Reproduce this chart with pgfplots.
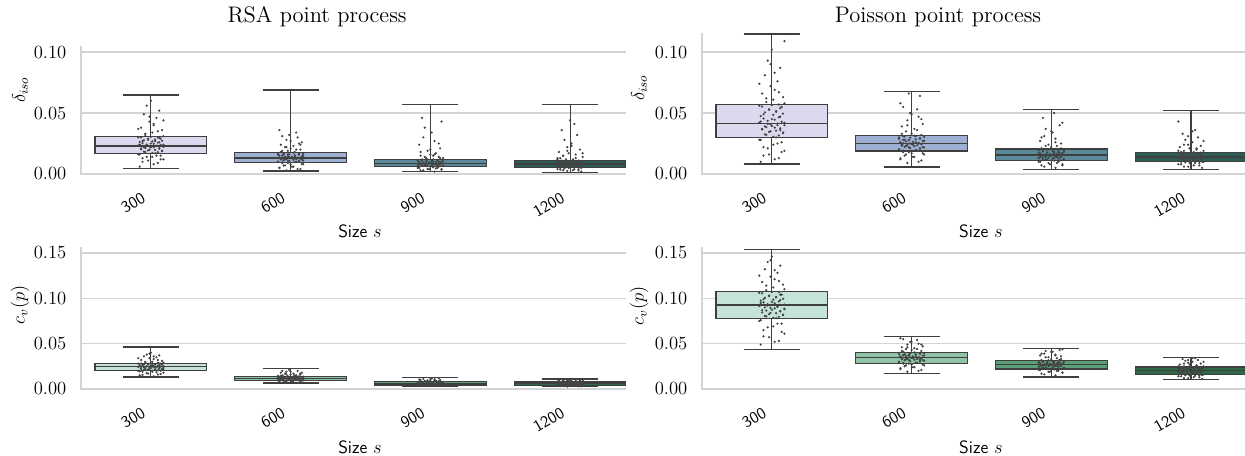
\documentclass[border=0pt]{standalone}
\usepackage{pgfplots}
\usepackage{pgfplotstable}
\usepgfplotslibrary{statistics}
\pgfplotsset{compat=1.18}

\definecolor{gridc}{HTML}{D4D4D4}
\definecolor{edgec}{HTML}{3F3F3F}
\definecolor{ptc}{HTML}{444444}
\definecolor{boxA1}{HTML}{DCD9EE}
\definecolor{boxA2}{HTML}{9DB0D4}
\definecolor{boxA3}{HTML}{5B8A9B}
\definecolor{boxA4}{HTML}{2D5C57}
\definecolor{boxB1}{HTML}{C5E3D7}
\definecolor{boxB2}{HTML}{8EC3A6}
\definecolor{boxB3}{HTML}{5B9E78}
\definecolor{boxB4}{HTML}{2E6845}

% strip points, one column per size (a=300, b=600, c=900, d=1200), dx/ex = jitter
\pgfplotstableread{
dx ex a b c d
-0.08 0.03 0.006 0.003 0.002 0.002
0.05 -0.07 0.009 0.004 0.003 0.003
-0.02 0.08 0.011 0.005 0.004 0.003
0.09 -0.02 0.012 0.006 0.004 0.004
-0.06 0.05 0.013 0.007 0.005 0.004
0.01 -0.09 0.014 0.008 0.005 0.005
0.07 0.00 0.015 0.008 0.006 0.005
-0.09 0.06 0.016 0.009 0.006 0.006
0.03 -0.04 0.017 0.010 0.007 0.006
-0.04 0.09 0.018 0.010 0.007 0.007
0.08 -0.06 0.019 0.011 0.007 0.007
-0.01 0.02 0.020 0.011 0.008 0.007
0.06 -0.08 0.021 0.012 0.008 0.008
-0.07 0.04 0.021 0.012 0.008 0.008
0.02 -0.01 0.022 0.013 0.009 0.008
-0.05 0.07 0.022 0.013 0.009 0.009
0.04 -0.05 0.023 0.013 0.009 0.009
-0.03 0.01 0.023 0.014 0.010 0.009
0.09 -0.03 0.024 0.014 0.010 0.010
-0.08 0.08 0.024 0.015 0.010 0.010
0.00 -0.09 0.025 0.015 0.011 0.010
0.06 0.05 0.026 0.016 0.011 0.011
-0.06 0.02 0.027 0.016 0.012 0.011
0.03 -0.06 0.027 0.017 0.012 0.012
-0.02 0.09 0.028 0.017 0.013 0.012
0.07 -0.03 0.029 0.018 0.013 0.013
-0.09 0.06 0.030 0.019 0.014 0.014
0.05 -0.07 0.030 0.020 0.015 0.015
-0.04 0.00 0.032 0.021 0.016 0.016
0.01 0.04 0.034 0.022 0.017 0.017
0.08 -0.02 0.036 0.023 0.019 0.018
-0.07 0.07 0.038 0.024 0.021 0.020
0.02 -0.08 0.040 0.026 0.024 0.022
-0.01 0.03 0.043 0.028 0.027 0.025
0.04 -0.05 0.046 0.030 0.030 0.028
-0.05 0.01 0.049 0.032 0.034 0.032
0.06 -0.04 0.052 0.034 0.038 0.036
-0.03 0.08 0.056 0.036 0.043 0.041
0.00 -0.06 0.060 0.025 0.046 0.044
0.09 0.02 0.044 0.019 0.015 0.013
0.02 -0.05 0.008 0.004 0.003 0.0025
-0.06 0.08 0.010 0.005 0.0035 0.003
0.07 -0.01 0.012 0.006 0.004 0.0035
-0.03 0.04 0.014 0.007 0.0045 0.004
0.04 -0.08 0.015 0.008 0.005 0.0045
-0.08 0.02 0.016 0.009 0.0055 0.005
0.01 0.06 0.0172 0.0095 0.0062 0.0054
0.05 -0.03 0.0178 0.0098 0.0064 0.0056
-0.05 0.09 0.0183 0.0101 0.0066 0.0058
0.08 -0.06 0.0188 0.0104 0.0068 0.0060
-0.02 0.01 0.0193 0.0107 0.0070 0.0062
0.03 -0.09 0.0198 0.0110 0.0072 0.0064
-0.07 0.05 0.0203 0.0113 0.0074 0.0066
0.06 -0.02 0.0208 0.0116 0.0076 0.0068
-0.04 0.07 0.0213 0.0119 0.0078 0.0070
0.00 -0.04 0.0218 0.0122 0.0080 0.0072
0.09 0.03 0.0222 0.0125 0.0082 0.0074
-0.01 -0.07 0.0226 0.0127 0.0084 0.0076
0.04 0.00 0.0230 0.0129 0.0086 0.0078
-0.09 0.06 0.0234 0.0131 0.0088 0.0080
0.07 -0.05 0.0238 0.0133 0.0090 0.0082
-0.03 0.08 0.0242 0.0135 0.0092 0.0084
0.02 -0.01 0.0247 0.0138 0.0094 0.0086
-0.06 0.04 0.0252 0.0141 0.0096 0.0088
0.05 -0.08 0.0257 0.0144 0.0098 0.0090
-0.08 0.02 0.0262 0.0147 0.0100 0.0092
0.01 0.06 0.0267 0.0150 0.0102 0.0094
0.08 -0.03 0.0272 0.0153 0.0104 0.0096
-0.05 0.09 0.0277 0.0156 0.0106 0.0098
0.03 -0.06 0.0283 0.0159 0.0108 0.0100
-0.02 0.01 0.0289 0.0162 0.0110 0.0102
0.06 -0.09 0.0295 0.0166 0.0113 0.0104
-0.07 0.05 0.0300 0.0170 0.0116 0.0106
0.00 -0.02 0.0305 0.0174 0.0119 0.0108
0.09 0.07 0.031 0.018 0.013 0.012
-0.04 -0.04 0.033 0.020 0.014 0.013
0.05 0.03 0.035 0.022 0.016 0.015
-0.09 -0.07 0.037 0.024 0.018 0.017
0.02 0.00 0.041 0.027 0.020 0.019
-0.01 0.06 0.047 0.031 0.025 0.023
}\rsaiso

\pgfplotstableread{
dx ex a b c d
-0.08 0.03 0.010 0.009 0.005 0.005
0.05 -0.07 0.013 0.011 0.007 0.006
-0.02 0.08 0.016 0.013 0.008 0.007
0.09 -0.02 0.019 0.014 0.009 0.008
-0.06 0.05 0.022 0.015 0.010 0.009
0.01 -0.09 0.024 0.016 0.010 0.009
0.07 0.00 0.026 0.017 0.011 0.010
-0.09 0.06 0.028 0.018 0.011 0.010
0.03 -0.04 0.030 0.019 0.012 0.011
-0.04 0.09 0.032 0.020 0.012 0.011
0.08 -0.06 0.034 0.021 0.013 0.012
-0.01 0.02 0.035 0.022 0.013 0.012
0.06 -0.08 0.036 0.022 0.014 0.013
-0.07 0.04 0.037 0.023 0.014 0.013
0.02 -0.01 0.038 0.024 0.015 0.013
-0.05 0.07 0.039 0.024 0.015 0.014
0.04 -0.05 0.040 0.025 0.015 0.014
-0.03 0.01 0.041 0.025 0.016 0.014
0.09 -0.03 0.042 0.026 0.016 0.015
-0.08 0.08 0.043 0.026 0.017 0.015
0.00 -0.09 0.045 0.027 0.017 0.016
0.06 0.05 0.047 0.028 0.018 0.016
-0.06 0.02 0.049 0.028 0.018 0.017
0.03 -0.06 0.051 0.029 0.019 0.017
-0.02 0.09 0.053 0.030 0.019 0.018
0.07 -0.03 0.055 0.031 0.020 0.018
-0.09 0.06 0.056 0.031 0.020 0.019
0.05 -0.07 0.057 0.032 0.021 0.019
-0.04 0.00 0.059 0.033 0.022 0.020
0.01 0.04 0.061 0.035 0.023 0.021
0.08 -0.02 0.063 0.037 0.024 0.022
-0.07 0.07 0.066 0.039 0.025 0.023
0.02 -0.08 0.069 0.041 0.027 0.024
-0.01 0.03 0.072 0.044 0.029 0.026
0.04 -0.05 0.076 0.047 0.031 0.028
-0.05 0.01 0.081 0.050 0.034 0.030
0.06 -0.04 0.087 0.053 0.037 0.033
-0.03 0.08 0.093 0.058 0.042 0.036
0.00 -0.06 0.102 0.064 0.046 0.039
0.09 0.02 0.109 0.066 0.050 0.043
0.02 -0.05 0.012 0.010 0.006 0.006
-0.06 0.08 0.015 0.012 0.007 0.007
0.07 -0.01 0.018 0.014 0.008 0.008
-0.03 0.04 0.021 0.016 0.009 0.009
0.04 -0.08 0.025 0.017 0.010 0.0095
-0.08 0.02 0.028 0.018 0.011 0.010
0.01 0.06 0.0305 0.0192 0.0114 0.0106
0.05 -0.03 0.0315 0.0197 0.0117 0.0109
-0.05 0.09 0.0325 0.0202 0.0120 0.0112
0.08 -0.06 0.0335 0.0207 0.0123 0.0115
-0.02 0.01 0.0345 0.0212 0.0126 0.0118
0.03 -0.09 0.0355 0.0217 0.0129 0.0121
-0.07 0.05 0.0365 0.0222 0.0132 0.0124
0.06 -0.02 0.0375 0.0227 0.0135 0.0127
-0.04 0.07 0.0385 0.0231 0.0138 0.0129
0.00 -0.04 0.0393 0.0235 0.0141 0.0131
0.09 0.03 0.0400 0.0239 0.0144 0.0133
-0.01 -0.07 0.0407 0.0243 0.0147 0.0135
0.04 0.00 0.0414 0.0247 0.0150 0.0137
-0.09 0.06 0.0421 0.0251 0.0153 0.0139
0.07 -0.05 0.0428 0.0255 0.0156 0.0141
-0.03 0.08 0.0436 0.0259 0.0159 0.0143
0.02 -0.01 0.0445 0.0263 0.0162 0.0145
-0.06 0.04 0.0455 0.0267 0.0165 0.0148
0.05 -0.08 0.0465 0.0271 0.0168 0.0151
-0.08 0.02 0.0475 0.0275 0.0171 0.0154
0.01 0.06 0.0485 0.0279 0.0174 0.0157
0.08 -0.03 0.0495 0.0283 0.0177 0.0160
-0.05 0.09 0.0505 0.0288 0.0181 0.0163
0.03 -0.06 0.0515 0.0293 0.0185 0.0166
-0.02 0.01 0.0527 0.0298 0.0189 0.0169
0.06 -0.09 0.0540 0.0303 0.0193 0.0172
-0.07 0.05 0.0553 0.0308 0.0197 0.0175
0.00 -0.02 0.0565 0.0314 0.0202 0.0177
0.09 0.07 0.058 0.033 0.021 0.019
-0.04 -0.04 0.062 0.036 0.023 0.021
0.05 0.03 0.067 0.040 0.026 0.024
-0.09 -0.07 0.074 0.045 0.030 0.027
0.02 0.00 0.083 0.049 0.035 0.031
-0.01 0.06 0.090 0.055 0.040 0.035
}\poiiso

\pgfplotstableread{
dx ex a b c d
-0.08 0.03 0.015 0.0075 0.0038 0.0030
0.05 -0.07 0.016 0.0080 0.0040 0.0033
-0.02 0.08 0.017 0.0085 0.0042 0.0036
0.09 -0.02 0.018 0.0090 0.0044 0.0038
-0.06 0.05 0.019 0.0090 0.0046 0.0040
0.01 -0.09 0.019 0.0095 0.0048 0.0042
0.07 0.00 0.020 0.0100 0.0050 0.0044
-0.09 0.06 0.020 0.0100 0.0052 0.0046
0.03 -0.04 0.021 0.0105 0.0054 0.0048
-0.04 0.09 0.021 0.0110 0.0055 0.0050
0.08 -0.06 0.022 0.0110 0.0056 0.0051
-0.01 0.02 0.022 0.0115 0.0058 0.0053
0.06 -0.08 0.023 0.0115 0.0060 0.0055
-0.07 0.04 0.023 0.0120 0.0060 0.0056
0.02 -0.01 0.024 0.0120 0.0062 0.0058
-0.05 0.07 0.024 0.0120 0.0063 0.0060
0.04 -0.05 0.024 0.0125 0.0065 0.0061
-0.03 0.01 0.025 0.0125 0.0066 0.0063
0.09 -0.03 0.025 0.0130 0.0068 0.0065
-0.08 0.08 0.025 0.0130 0.0070 0.0066
0.00 -0.09 0.026 0.0135 0.0072 0.0068
0.06 0.05 0.026 0.0135 0.0074 0.0070
-0.06 0.02 0.027 0.0140 0.0076 0.0072
0.03 -0.06 0.027 0.0140 0.0078 0.0074
-0.02 0.09 0.027 0.0145 0.0080 0.0076
0.07 -0.03 0.028 0.0150 0.0082 0.0078
-0.09 0.06 0.028 0.0150 0.0085 0.0080
0.05 -0.07 0.029 0.0160 0.0088 0.0083
-0.04 0.00 0.029 0.0160 0.0090 0.0086
0.01 0.04 0.030 0.0170 0.0093 0.0089
0.08 -0.02 0.031 0.0170 0.0096 0.0092
-0.07 0.07 0.032 0.0180 0.0100 0.0095
0.02 -0.08 0.033 0.0180 0.0104 0.0098
-0.01 0.03 0.034 0.0190 0.0108 0.0101
0.04 -0.05 0.035 0.0200 0.0112 0.0105
-0.05 0.01 0.036 0.0210 0.0118 0.0108
0.06 -0.04 0.037 0.0125 0.0058 0.0057
-0.03 0.08 0.038 0.0115 0.0064 0.0062
0.00 -0.06 0.040 0.0105 0.0070 0.0068
0.09 0.02 0.022 0.0135 0.0052 0.0049
0.02 -0.05 0.014 0.0070 0.0034 0.0027
-0.06 0.08 0.0155 0.0078 0.0036 0.0030
0.07 -0.01 0.0165 0.0084 0.0038 0.0033
-0.03 0.04 0.0175 0.0088 0.0040 0.0035
0.04 -0.08 0.0185 0.0092 0.0042 0.0037
-0.08 0.02 0.0195 0.0094 0.0043 0.0039
0.01 0.06 0.0204 0.0097 0.0045 0.0042
0.05 -0.03 0.0207 0.0099 0.0046 0.0043
-0.05 0.09 0.0210 0.0101 0.0047 0.0044
0.08 -0.06 0.0213 0.0103 0.0048 0.0045
-0.02 0.01 0.0216 0.0104 0.0049 0.0046
0.03 -0.09 0.0219 0.0106 0.0050 0.0047
-0.07 0.05 0.0222 0.0108 0.0051 0.0048
0.06 -0.02 0.0225 0.0109 0.0052 0.0049
-0.04 0.07 0.0228 0.0111 0.0053 0.0050
0.00 -0.04 0.0231 0.0112 0.0054 0.0051
0.09 0.03 0.0234 0.0114 0.0055 0.0052
-0.01 -0.07 0.0237 0.0115 0.0056 0.0053
0.04 0.00 0.0240 0.0117 0.0057 0.0054
-0.09 0.06 0.0243 0.0118 0.0058 0.0055
0.07 -0.05 0.0246 0.0119 0.0059 0.0056
-0.03 0.08 0.0249 0.0121 0.0060 0.0057
0.02 -0.01 0.0252 0.0122 0.0062 0.0059
-0.06 0.04 0.0255 0.0124 0.0063 0.0060
0.05 -0.08 0.0258 0.0125 0.0065 0.0062
-0.08 0.02 0.0261 0.0127 0.0066 0.0063
0.01 0.06 0.0264 0.0128 0.0068 0.0065
0.08 -0.03 0.0267 0.0130 0.0069 0.0066
-0.05 0.09 0.0270 0.0131 0.0071 0.0068
0.03 -0.06 0.0273 0.0133 0.0072 0.0069
-0.02 0.01 0.0276 0.0134 0.0074 0.0071
0.06 -0.09 0.0279 0.0136 0.0076 0.0073
-0.07 0.05 0.0281 0.0137 0.0078 0.0075
0.00 -0.02 0.0283 0.0139 0.0080 0.0077
0.09 0.07 0.029 0.0145 0.0085 0.0082
-0.04 -0.04 0.030 0.015 0.0090 0.0087
0.05 0.03 0.032 0.016 0.0095 0.0092
-0.09 -0.07 0.034 0.017 0.0100 0.0097
0.02 0.00 0.036 0.019 0.0110 0.0102
-0.01 0.06 0.039 0.020 0.0120 0.0107
}\rsacv

\pgfplotstableread{
dx ex a b c d
-0.08 0.03 0.049 0.019 0.015 0.011
0.05 -0.07 0.053 0.021 0.017 0.012
-0.02 0.08 0.057 0.023 0.018 0.013
0.09 -0.02 0.061 0.024 0.019 0.014
-0.06 0.05 0.065 0.025 0.020 0.015
0.01 -0.09 0.069 0.026 0.021 0.015
0.07 0.00 0.072 0.027 0.021 0.016
-0.09 0.06 0.075 0.028 0.022 0.016
0.03 -0.04 0.078 0.029 0.023 0.017
-0.04 0.09 0.080 0.030 0.023 0.017
0.08 -0.06 0.082 0.031 0.024 0.018
-0.01 0.02 0.084 0.032 0.025 0.018
0.06 -0.08 0.086 0.032 0.025 0.019
-0.07 0.04 0.087 0.033 0.026 0.019
0.02 -0.01 0.089 0.034 0.026 0.020
-0.05 0.07 0.090 0.034 0.027 0.020
0.04 -0.05 0.091 0.035 0.027 0.020
-0.03 0.01 0.092 0.035 0.027 0.021
0.09 -0.03 0.093 0.036 0.028 0.021
-0.08 0.08 0.095 0.036 0.028 0.021
0.00 -0.09 0.096 0.037 0.029 0.022
0.06 0.05 0.098 0.038 0.029 0.022
-0.06 0.02 0.099 0.038 0.030 0.023
0.03 -0.06 0.101 0.039 0.030 0.023
-0.02 0.09 0.103 0.040 0.031 0.024
0.07 -0.03 0.104 0.040 0.031 0.024
-0.09 0.06 0.106 0.041 0.032 0.025
0.05 -0.07 0.107 0.042 0.032 0.025
-0.04 0.00 0.109 0.043 0.033 0.026
0.01 0.04 0.112 0.044 0.034 0.027
0.08 -0.02 0.115 0.045 0.035 0.027
-0.07 0.07 0.118 0.046 0.036 0.028
0.02 -0.08 0.121 0.047 0.037 0.029
-0.01 0.03 0.124 0.049 0.038 0.030
0.04 -0.05 0.128 0.050 0.039 0.031
-0.05 0.01 0.132 0.052 0.041 0.032
0.06 -0.04 0.136 0.054 0.042 0.033
-0.03 0.08 0.140 0.056 0.044 0.034
0.00 -0.06 0.146 0.033 0.026 0.019
0.09 0.02 0.088 0.037 0.028 0.022
0.02 -0.05 0.052 0.020 0.016 0.012
-0.06 0.08 0.058 0.022 0.018 0.013
0.07 -0.01 0.063 0.024 0.019 0.014
-0.03 0.04 0.068 0.026 0.020 0.0145
0.04 -0.08 0.072 0.027 0.021 0.015
-0.08 0.02 0.076 0.028 0.0215 0.0155
0.01 0.06 0.0785 0.0287 0.0223 0.0164
0.05 -0.03 0.0795 0.0292 0.0227 0.0167
-0.05 0.09 0.0805 0.0297 0.0231 0.0170
0.08 -0.06 0.0815 0.0302 0.0235 0.0173
-0.02 0.01 0.0825 0.0307 0.0239 0.0176
0.03 -0.09 0.0835 0.0312 0.0243 0.0179
-0.07 0.05 0.0845 0.0317 0.0247 0.0182
0.06 -0.02 0.0855 0.0322 0.0251 0.0185
-0.04 0.07 0.0865 0.0327 0.0255 0.0188
0.00 -0.04 0.0875 0.0331 0.0258 0.0191
0.09 0.03 0.0885 0.0335 0.0261 0.0194
-0.01 -0.07 0.0895 0.0339 0.0264 0.0197
0.04 0.00 0.0905 0.0343 0.0267 0.0200
-0.09 0.06 0.0915 0.0347 0.0270 0.0203
0.07 -0.05 0.0925 0.0351 0.0273 0.0206
-0.03 0.08 0.0935 0.0355 0.0276 0.0209
0.02 -0.01 0.0945 0.0359 0.0279 0.0212
-0.06 0.04 0.0955 0.0363 0.0282 0.0215
0.05 -0.08 0.0965 0.0367 0.0285 0.0218
-0.08 0.02 0.0975 0.0371 0.0288 0.0221
0.01 0.06 0.0985 0.0375 0.0291 0.0224
0.08 -0.03 0.0995 0.0379 0.0294 0.0227
-0.05 0.09 0.1005 0.0383 0.0297 0.0230
0.03 -0.06 0.1015 0.0387 0.0300 0.0233
-0.02 0.01 0.1025 0.0391 0.0304 0.0236
0.06 -0.09 0.1040 0.0395 0.0308 0.0238
-0.07 0.05 0.1055 0.0399 0.0312 0.0240
0.00 -0.02 0.1070 0.0403 0.0316 0.0242
0.09 0.07 0.110 0.042 0.033 0.025
-0.04 -0.04 0.114 0.044 0.035 0.026
0.05 0.03 0.119 0.046 0.037 0.028
-0.09 -0.07 0.125 0.049 0.039 0.030
0.02 0.00 0.131 0.052 0.041 0.032
-0.01 0.06 0.142 0.055 0.043 0.034
}\poicv

\pgfplotsset{
  panel/.style={
    scale only axis, anchor=south west,
    xmin=-0.5, ymin=0,
    axis line style={draw=none},
    ymajorgrids, grid style={gridc, line width=1pt},
    major tick length=0pt,
    xtick={0,1,2,3}, xticklabels={300,600,900,1200},
    xticklabel style={font=\sffamily\fontsize{10.5}{12.5}\selectfont, inner sep=0pt,
      xshift=-6.4pt, yshift=-11pt, rotate=30, anchor=north east},
    yticklabel style={font=\fontsize{11.5}{13.5}\selectfont, xshift=-6pt,
      /pgf/number format/fixed, /pgf/number format/fixed zerofill,
      /pgf/number format/precision=2},
    scaled y ticks=false,
    boxplot/draw direction=y,
    after end axis/.code={
      \draw[gridc, line width=1pt] (rel axis cs:0,1) -- (rel axis cs:0,0) -- (rel axis cs:1,0);
    },
  },
  bx/.style={draw=edgec, line width=0.75pt, fill=#1, solid},
  pts/.style={only marks, mark=*, mark size=0.5pt, ptc, mark options={draw=none, fill=ptc}},
}

\begin{document}
\begin{tikzpicture}

% top left: RSA, delta_iso
\begin{axis}[panel, at={(52.25pt,181.89pt)}, width=351.5pt, height=82.56pt,
  xmax=3.4, ymax=0.105, ytick={0,0.05,0.1}]
  \addplot[bx=boxA1, boxplot prepared={lower whisker=0.0047, lower quartile=0.017, median=0.023,
    upper quartile=0.0306, upper whisker=0.0648, draw position=0, box extend=0.8, whisker extend=0.4}] coordinates {};
  \addplot[bx=boxA2, boxplot prepared={lower whisker=0.0025, lower quartile=0.0093, median=0.0131,
    upper quartile=0.0175, upper whisker=0.0689, draw position=1, box extend=0.8, whisker extend=0.4}] coordinates {};
  \addplot[bx=boxA3, boxplot prepared={lower whisker=0.0019, lower quartile=0.006, median=0.0088,
    upper quartile=0.012, upper whisker=0.0571, draw position=2, box extend=0.8, whisker extend=0.4}] coordinates {};
  \addplot[bx=boxA4, boxplot prepared={lower whisker=0.0014, lower quartile=0.0052, median=0.0082,
    upper quartile=0.0109, upper whisker=0.057, draw position=3, box extend=0.8, whisker extend=0.4}] coordinates {};
  \addplot[pts] table[x expr=\thisrow{dx}, y=a] {\rsaiso};
  \addplot[pts] table[x expr=1-\thisrow{ex}, y=b] {\rsaiso};
  \addplot[pts] table[x expr=2+\thisrow{ex}, y=c] {\rsaiso};
  \addplot[pts] table[x expr=3-\thisrow{dx}, y=d] {\rsaiso};
\end{axis}

% top right: Poisson, delta_iso
\begin{axis}[panel, at={(452.8pt,181.89pt)}, width=350.2pt, height=90.9pt,
  xmax=3.387, ymax=0.1156, ytick={0,0.05,0.1}]
  \addplot[bx=boxA1, boxplot prepared={lower whisker=0.0082, lower quartile=0.0301, median=0.0412,
    upper quartile=0.0568, upper whisker=0.1148, draw position=0, box extend=0.8, whisker extend=0.4}] coordinates {};
  \addplot[bx=boxA2, boxplot prepared={lower whisker=0.0057, lower quartile=0.0189, median=0.0251,
    upper quartile=0.0317, upper whisker=0.0675, draw position=1, box extend=0.8, whisker extend=0.4}] coordinates {};
  \addplot[bx=boxA3, boxplot prepared={lower whisker=0.0038, lower quartile=0.0112, median=0.0156,
    upper quartile=0.0205, upper whisker=0.053, draw position=2, box extend=0.8, whisker extend=0.4}] coordinates {};
  \addplot[bx=boxA4, boxplot prepared={lower whisker=0.0035, lower quartile=0.0104, median=0.0139,
    upper quartile=0.0178, upper whisker=0.0522, draw position=3, box extend=0.8, whisker extend=0.4}] coordinates {};
  \addplot[pts] table[x expr=\thisrow{dx}, y=a] {\poiiso};
  \addplot[pts] table[x expr=1-\thisrow{ex}, y=b] {\poiiso};
  \addplot[pts] table[x expr=2+\thisrow{ex}, y=c] {\poiiso};
  \addplot[pts] table[x expr=3-\thisrow{dx}, y=d] {\poiiso};
\end{axis}

% bottom left: RSA, c_v(p)
\begin{axis}[panel, at={(52.25pt,43.2pt)}, width=351.5pt, height=91.6pt,
  xmax=3.4, ymax=0.1566, ytick={0,0.05,0.1,0.15}]
  \addplot[bx=boxB1, boxplot prepared={lower whisker=0.0132, lower quartile=0.0202, median=0.0246,
    upper quartile=0.0284, upper whisker=0.0464, draw position=0, box extend=0.8, whisker extend=0.4}] coordinates {};
  \addplot[bx=boxB2, boxplot prepared={lower whisker=0.0066, lower quartile=0.0096, median=0.0118,
    upper quartile=0.014, upper whisker=0.0224, draw position=1, box extend=0.8, whisker extend=0.4}] coordinates {};
  \addplot[bx=boxB3, boxplot prepared={lower whisker=0.0033, lower quartile=0.0044, median=0.006,
    upper quartile=0.0081, upper whisker=0.0125, draw position=2, box extend=0.8, whisker extend=0.4}] coordinates {};
  \addplot[bx=boxB4, boxplot prepared={lower whisker=0.0025, lower quartile=0.0041, median=0.0058,
    upper quartile=0.0077, upper whisker=0.011, draw position=3, box extend=0.8, whisker extend=0.4}] coordinates {};
  \addplot[pts] table[x expr=\thisrow{dx}, y=a] {\rsacv};
  \addplot[pts] table[x expr=1-\thisrow{ex}, y=b] {\rsacv};
  \addplot[pts] table[x expr=2+\thisrow{ex}, y=c] {\rsacv};
  \addplot[pts] table[x expr=3-\thisrow{dx}, y=d] {\rsacv};
\end{axis}

% bottom right: Poisson, c_v(p)
\begin{axis}[panel, at={(452.8pt,43.2pt)}, width=350.2pt, height=91.6pt,
  xmax=3.387, ymax=0.1566, ytick={0,0.05,0.1,0.15}]
  \addplot[bx=boxB1, boxplot prepared={lower whisker=0.0438, lower quartile=0.078, median=0.0927,
    upper quartile=0.1078, upper whisker=0.1542, draw position=0, box extend=0.8, whisker extend=0.4}] coordinates {};
  \addplot[bx=boxB2, boxplot prepared={lower whisker=0.0169, lower quartile=0.0284, median=0.035,
    upper quartile=0.0405, upper whisker=0.0577, draw position=1, box extend=0.8, whisker extend=0.4}] coordinates {};
  \addplot[bx=boxB3, boxplot prepared={lower whisker=0.0132, lower quartile=0.0221, median=0.0272,
    upper quartile=0.0317, upper whisker=0.0449, draw position=2, box extend=0.8, whisker extend=0.4}] coordinates {};
  \addplot[bx=boxB4, boxplot prepared={lower whisker=0.0103, lower quartile=0.0162, median=0.0206,
    upper quartile=0.0243, upper whisker=0.035, draw position=3, box extend=0.8, whisker extend=0.4}] coordinates {};
  \addplot[pts] table[x expr=\thisrow{dx}, y=a] {\poicv};
  \addplot[pts] table[x expr=1-\thisrow{ex}, y=b] {\poicv};
  \addplot[pts] table[x expr=2+\thisrow{ex}, y=c] {\poicv};
  \addplot[pts] table[x expr=3-\thisrow{dx}, y=d] {\poicv};
\end{axis}

% titles and labels
\node[anchor=base, font=\fontsize{14.5}{17}\selectfont] at (204.5pt,279.3pt) {RSA point process};
\node[anchor=base, font=\fontsize{14.5}{17}\selectfont] at (605pt,279.3pt) {Poisson point process};
\node[anchor=base, font=\fontsize{11.5}{13.5}\selectfont] at (232.2pt,140.6pt) {\textsf{Size} $s$};
\node[anchor=base, font=\fontsize{11.5}{13.5}\selectfont] at (632.7pt,140.6pt) {\textsf{Size} $s$};
\node[anchor=base, font=\fontsize{11.5}{13.5}\selectfont] at (232.2pt,1.6pt) {\textsf{Size} $s$};
\node[anchor=base, font=\fontsize{11.5}{13.5}\selectfont] at (632.7pt,1.6pt) {\textsf{Size} $s$};
\node[rotate=90, font=\fontsize{11.5}{13.5}\selectfont] at (12.9pt,236.1pt) {$\delta_{iso}$};
\node[rotate=90, font=\fontsize{11.5}{13.5}\selectfont] at (412.2pt,237.4pt) {$\delta_{iso}$};
\node[rotate=90, font=\fontsize{11.5}{13.5}\selectfont] at (12.9pt,97.4pt) {$c_v(p)$};
\node[rotate=90, font=\fontsize{11.5}{13.5}\selectfont] at (412.2pt,96.8pt) {$c_v(p)$};

\pgfresetboundingbox
\path (0pt,0pt) rectangle (803.0pt,294.1pt);
\end{tikzpicture}
\end{document}
